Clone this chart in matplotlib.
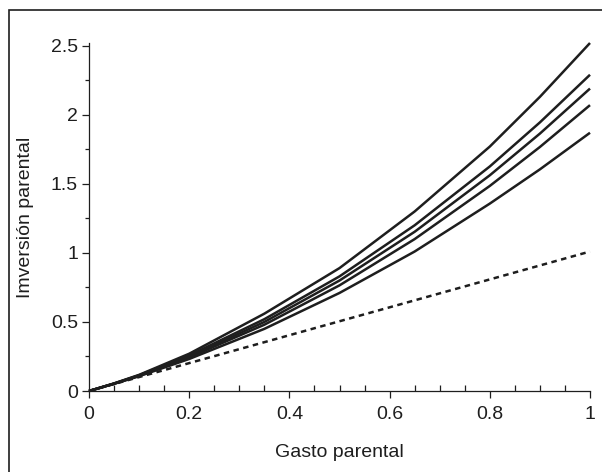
import matplotlib
matplotlib.use("Agg")
import matplotlib.pyplot as plt
from matplotlib.patches import Rectangle
from matplotlib.ticker import MultipleLocator

plt.rcParams['font.family'] = ['Liberation Sans', 'DejaVu Sans']

x = [0, 0.05, 0.1, 0.2, 0.35, 0.5, 0.65, 0.8, 0.9, 1.0]
curve_a = [0, 0.055, 0.117, 0.27, 0.56, 0.89, 1.30, 1.77, 2.13, 2.52]
curve_b = [0, 0.054, 0.114, 0.258, 0.52, 0.83, 1.20, 1.626, 1.945, 2.29]
curve_c = [0, 0.053, 0.112, 0.250, 0.50, 0.80, 1.153, 1.562, 1.864, 2.19]
curve_d = [0, 0.053, 0.110, 0.243, 0.48, 0.765, 1.10, 1.485, 1.767, 2.07]
curve_e = [0, 0.052, 0.107, 0.232, 0.45, 0.71, 1.01, 1.357, 1.605, 1.87]
line_x = [0, 1.0]
line_y = [0, 1.01]

xticks = [0, 0.2, 0.4, 0.6, 0.8, 1]
xticklabels = ['0', '0.2', '0.4', '0.6', '0.8', '1']
yticks = [0, 0.5, 1, 1.5, 2, 2.5]
yticklabels = ['0', '0.5', '1', '1.5', '2', '2.5']

W, H = 602, 472
fig = plt.figure(figsize=(W/100, H/100), dpi=100)
ax = fig.add_axes([89/W, 1-391/H, (590-89)/W, (391-43)/H])

col = '#1e1e1e'
fs = 14
for c in [curve_a, curve_b, curve_c, curve_d, curve_e]:
    ax.plot(x, c, color=col, lw=1.8, clip_on=False, solid_capstyle='butt')
ax.plot(line_x, line_y, color=col, lw=1.8, linestyle=(0, (2.2, 1.8)), clip_on=False)

ax.set_xlim(0, 1)
ax.set_ylim(0, 2.52)
for s in ['top', 'right']:
    ax.spines[s].set_visible(False)
for s in ['left', 'bottom']:
    ax.spines[s].set_linewidth(0.9)
    ax.spines[s].set_color(col)

ax.set_xticks(xticks)
ax.set_xticklabels(xticklabels)
ax.set_yticks(yticks)
ax.set_yticklabels(yticklabels)
ax.xaxis.set_minor_locator(MultipleLocator(0.05))
ax.yaxis.set_minor_locator(MultipleLocator(0.25))
ax.tick_params(axis='x', which='major', direction='out', length=5, width=0.9, color=col, labelsize=fs, pad=6, labelcolor=col)
ax.tick_params(axis='x', which='minor', direction='in', length=4, width=0.9, color=col)
ax.tick_params(axis='y', which='major', direction='out', length=5, width=0.9, color=col, labelsize=fs, pad=3, labelcolor=col)
ax.tick_params(axis='y', which='minor', direction='out', length=3, width=0.9, color=col)

ax.set_xlabel('Gasto parental', fontsize=fs, color=col, labelpad=15)
ax.set_ylabel('Imversión parental', fontsize=fs, color=col, labelpad=12)

fig.patches.append(Rectangle((9/W, -0.2), 1.2, 1.2 - 10/H, transform=fig.transFigure,
                             fill=False, edgecolor=col, lw=1.2))

fig.savefig('out.png', dpi=100)
